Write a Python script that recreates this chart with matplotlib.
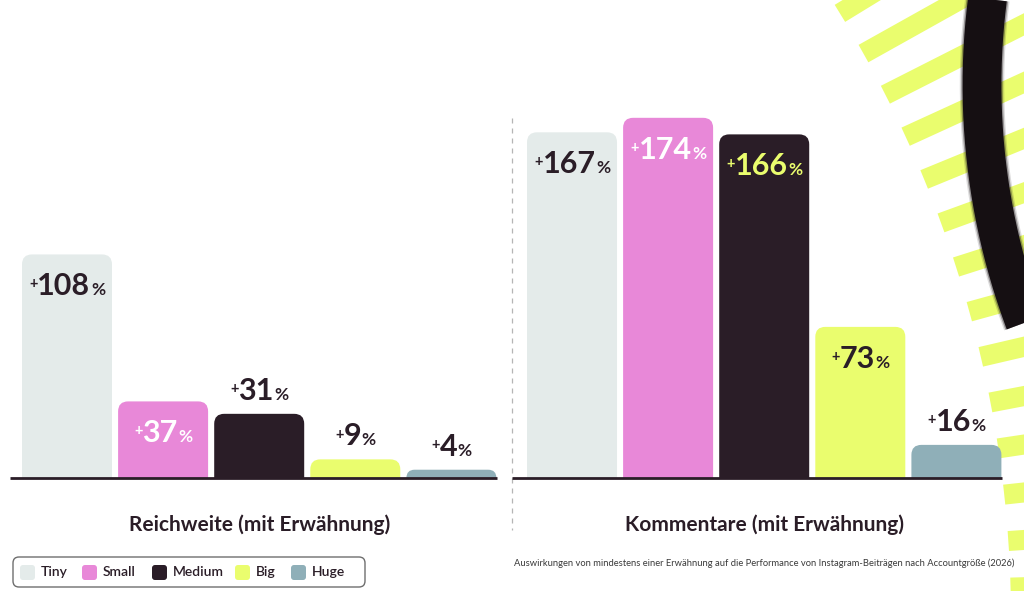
import numpy as np
import matplotlib
matplotlib.use('Agg')
import matplotlib.pyplot as plt
from matplotlib.patches import FancyBboxPatch, PathPatch, Polygon
from matplotlib.path import Path

plt.rcParams['font.family'] = ['Lato', 'DejaVu Sans']

# ── data ──
SIZES = ['Tiny', 'Small', 'Medium', 'Big', 'Huge']
GROUPS = ['Reichweite (mit Erwähnung)', 'Kommentare (mit Erwähnung)']
REICHWEITE = [108, 37, 31, 9, 4]
KOMMENTARE = [167, 174, 166, 73, 16]
CAPTION = ('Auswirkungen von mindestens einer Erwähnung auf die Performance '
           'von Instagram-Beiträgen nach Accountgröße (2026)')

# ── styles ──
COLORS = ['#E4EBEA', '#E888D8', '#2A1D27', '#EAFD6E', '#8FAFB8']
INSIDE_COLORS = ['#2A1D27', '#FFFFFF', '#EAFD6E', '#2A1D27', '#2A1D27']
DARK = '#2A1D27'
STRIPE = '#EAFD6E'

W, H = 1024, 591
STEP_PX = 96.1        # px between neighbouring bars
UNIT_PX = 2.07        # px per percent
BASE_PX = 478         # baseline, px from top
FIRST_PX = 67         # centre of first bar
BAR_W = 90 / STEP_PX
GROUP_GAP = 5.255


def rounded_top(x0, w, h, r_px):
    r = min(r_px, h * UNIT_PX)
    rx, ry = r / STEP_PX, r / UNIT_PX
    verts = [(x0, 0), (x0, h - ry), (x0, h), (x0 + rx, h),
             (x0 + w - rx, h), (x0 + w, h), (x0 + w, h - ry),
             (x0 + w, 0), (x0, 0)]
    codes = [Path.MOVETO, Path.LINETO, Path.CURVE3, Path.CURVE3,
             Path.LINETO, Path.CURVE3, Path.CURVE3, Path.LINETO,
             Path.CLOSEPOLY]
    return Path(verts, codes)


fig = plt.figure(figsize=(W / 100, H / 100), dpi=100)

# ── decoration layer (pixel coordinates) ──
deco = fig.add_axes([0, 0, 1, 1])
deco.set_xlim(0, W)
deco.set_ylim(H, 0)
deco.axis('off')

cx, cy, r_in = -150, 620, 1161
for k in range(-1, 14):
    a = np.radians(31.5 - 2.3 * k)
    d = np.array([np.cos(a), -np.sin(a)])
    n = np.array([np.sin(a), np.cos(a)])
    p0 = np.array([cx, cy]) + r_in * d
    p1 = p0 + 400 * d
    poly = [p0 + 10 * n, p1 + 10 * n, p1 - 10 * n, p0 - 10 * n]
    deco.add_patch(Polygon(poly, closed=True, facecolor=STRIPE,
                           edgecolor='none', zorder=1))

t = np.radians(np.linspace(-12, 32, 200))
ax_, ay_, R = 1660, 85, 678
for lw, al in ((32, 0.15), (30, 0.35), (28, 1.0)):
    deco.plot(ax_ - R * np.cos(t), ay_ + R * np.sin(t), color='#150F12',
              lw=lw, alpha=al, solid_capstyle='butt', zorder=2)

# legend
deco.add_patch(FancyBboxPatch((13, 557), 352, 30,
                              boxstyle='round,pad=0,rounding_size=6',
                              facecolor='white', edgecolor='#6E6E6E',
                              lw=1.0, zorder=3))
LEGEND_X = [20, 82, 152, 235, 291]
for lx, name, col in zip(LEGEND_X, SIZES, COLORS):
    deco.add_patch(FancyBboxPatch((lx, 565), 15, 15,
                                  boxstyle='round,pad=0,rounding_size=3',
                                  facecolor=col, edgecolor='none', zorder=4))
    deco.text(lx + 21, 572.5, name, fontsize=10, fontweight='semibold',
              color=DARK, ha='left', va='center', zorder=4)

# ── chart layer ──
ax = fig.add_axes([0, 0, 1, 1])
ax.patch.set_alpha(0)
ax.set_xlim(-FIRST_PX / STEP_PX, (W - FIRST_PX) / STEP_PX)
ax.set_ylim(-(H - BASE_PX) / UNIT_PX, BASE_PX / UNIT_PX)
ax.axis('off')

left = np.arange(len(SIZES), dtype=float)
right = left + GROUP_GAP

labels = []
for gi, (pos, vals) in enumerate(((left, REICHWEITE), (right, KOMMENTARE))):
    bars = ax.bar(pos, vals, width=BAR_W, color=COLORS)
    for i, (rect, v) in enumerate(zip(bars, vals)):
        rect.set_visible(False)
        ax.add_patch(PathPatch(rounded_top(rect.get_x(), rect.get_width(),
                                           rect.get_height(), 10),
                               facecolor=COLORS[i], edgecolor='none',
                               zorder=2))
        inside = v >= 35
        col = INSIDE_COLORS[i] if inside else DARK
        dy = -29.5 if inside else 10
        x = rect.get_x() + rect.get_width() / 2
        num = ax.annotate(str(v), xy=(x, v), xytext=(0, dy),
                          textcoords='offset points', ha='center',
                          va='baseline', fontsize=22, fontweight='bold',
                          color=col, zorder=5)
        plus = ax.annotate('+', xy=(x, v), xytext=(0, dy + 5),
                           textcoords='offset points', ha='center',
                           va='baseline', fontsize=10.5, fontweight='bold',
                           color=col, zorder=5)
        pct = ax.annotate('%', xy=(x, v), xytext=(0, dy),
                          textcoords='offset points', ha='center',
                          va='baseline', fontsize=12.5, fontweight='bold',
                          color=col, zorder=5)
        labels.append((plus, num, pct, dy))

    x0 = pos[0] - BAR_W / 2 - (12 if gi == 0 else 15) / STEP_PX
    x1 = pos[-1] + BAR_W / 2 + 1 / STEP_PX
    ax.plot([x0, x1], [0, 0], color=DARK, lw=2.0, solid_capstyle='butt',
            zorder=3)
    ax.annotate(GROUPS[gi], xy=(pos.mean(), 0), xytext=(0, -33.5),
                textcoords='offset points', ha='center', va='center',
                fontsize=15, fontweight='bold', color=DARK)

ax.annotate(CAPTION, xy=(right.mean(), 0), xytext=(0, -61.5),
            textcoords='offset points', ha='center', va='center',
            fontsize=6.75, color='#3A3A3A')

sep = (left[-1] + right[0]) / 2
ax.plot([sep, sep], [(BASE_PX - 118) / UNIT_PX, -(530 - BASE_PX) / UNIT_PX],
        color='#B5B5B5', lw=0.9, linestyle=(0, (4, 4)), zorder=1)

# centre the "+ number %" groups
fig.canvas.draw()
rend = fig.canvas.get_renderer()
pt = 72 / fig.dpi
for plus, num, pct, dy in labels:
    wp = plus.get_window_extent(rend).width * pt
    wn = num.get_window_extent(rend).width * pt
    wc = pct.get_window_extent(rend).width * pt
    g1, g2 = 0.1, 0.3
    start = -(wp + g1 + wn + g2 + wc) / 2
    plus.xyann = (start + wp / 2, dy + 5)
    num.xyann = (start + wp + g1 + wn / 2, dy)
    pct.xyann = (start + wp + g1 + wn + g2 + wc / 2, dy)

fig.savefig('out.png', dpi=100)
